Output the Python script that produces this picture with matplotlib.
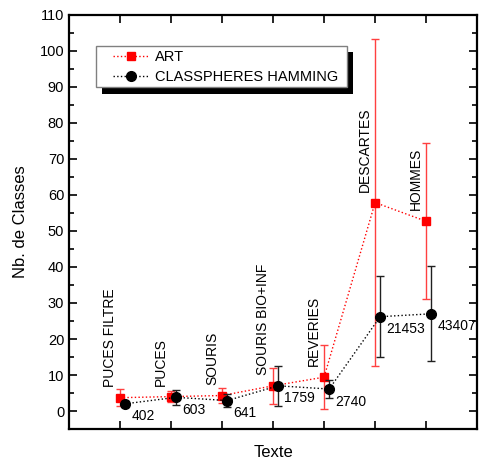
import matplotlib
matplotlib.use("Agg")
import matplotlib.pyplot as plt
from matplotlib.patches import Rectangle
from matplotlib.lines import Line2D

plt.rcParams['font.family'] = ['Liberation Sans', 'DejaVu Sans']

textes = ["PUCES FILTRE", "PUCES", "SOURIS", "SOURIS BIO+INF", "REVERIES", "DESCARTES", "HOMMES"]
tailles = ["402", "603", "641", "1759", "2740", "21453", "43407"]
positions = [1, 2, 3, 4, 5, 6, 7]

art_moy = [3.7, 4.0, 4.3, 7.0, 9.4, 57.9, 52.7]
art_err = [2.4, 1.6, 2.2, 5.0, 8.9, 45.5, 21.7]

ham_moy = [2.0, 3.8, 2.9, 7.0, 6.1, 26.2, 27.0]
ham_err = [0.8, 2.0, 1.8, 5.5, 2.6, 11.3, 13.2]

fig = plt.figure(figsize=(4.8, 4.61), dpi=100)
ax = fig.add_axes([0.1438, 0.0694, 0.8502, 0.8981])

ham_x = [p + 0.1 for p in positions]

ax.errorbar(positions, art_moy, yerr=art_err, color='red', ecolor='#ff4040',
            elinewidth=1, capsize=3, capthick=1, marker='s', markersize=6,
            linestyle=':', linewidth=1, zorder=3)
ax.errorbar(ham_x, ham_moy, yerr=ham_err, color='black', ecolor='#202020',
            elinewidth=1, capsize=3, capthick=1, marker='o', markersize=7,
            linestyle=':', linewidth=1, zorder=4)

# noms des textes au-dessus des points ART
for x, y, t in zip(positions, art_moy, textes):
    ax.text(x - 0.2, y + 3, t, rotation=90, ha='center', va='bottom', fontsize=10)

# tailles a cote des points
for x, y, n in zip(ham_x, ham_moy, tailles):
    ax.annotate(n, (x, y), xytext=(4.5, -9), textcoords='offset points',
                ha='left', va='center', fontsize=10)

ax.set_xlim(0, 8)
ax.set_ylim(-5, 110)
ax.set_xticks(positions)
ax.set_xticklabels([])
ax.set_yticks(range(0, 111, 10))
ax.set_yticks(range(-5, 111, 5), minor=True)
ax.tick_params(which='major', direction='in', length=6, width=1.2,
               top=True, right=True, labelsize=10.5)
ax.tick_params(which='minor', direction='in', length=3.5, width=1.2, right=True)
ax.tick_params(axis='x', which='minor', bottom=False, top=False)
for s in ax.spines.values():
    s.set_linewidth(1.6)

ax.set_xlabel("Texte", fontsize=12, labelpad=8)
ax.set_ylabel("Nb. de Classes", fontsize=12, labelpad=8)

# cadre de legende avec ombre noire
ax.add_patch(Rectangle((0.080, 0.810), 0.617, 0.101, transform=ax.transAxes,
                       facecolor='black', edgecolor='none', zorder=8, clip_on=False))
ax.add_patch(Rectangle((0.065, 0.825), 0.617, 0.101, transform=ax.transAxes,
                       facecolor='white', edgecolor='gray', linewidth=1, zorder=9, clip_on=False))

poignees = [
    Line2D([], [], color='red', linestyle=':', linewidth=1, marker='s', markersize=6),
    Line2D([], [], color='black', linestyle=':', linewidth=1, marker='o', markersize=7),
]
leg = ax.legend(poignees, ['ART', 'CLASSPHERES HAMMING'], loc='center left',
                bbox_to_anchor=(0.108, 0.874), borderaxespad=0, borderpad=0,
                frameon=False, fontsize=10.5, handlelength=2.4, handletextpad=0.5,
                labelspacing=0.4)
leg.set_zorder(10)

fig.savefig("out.png", dpi=100)
